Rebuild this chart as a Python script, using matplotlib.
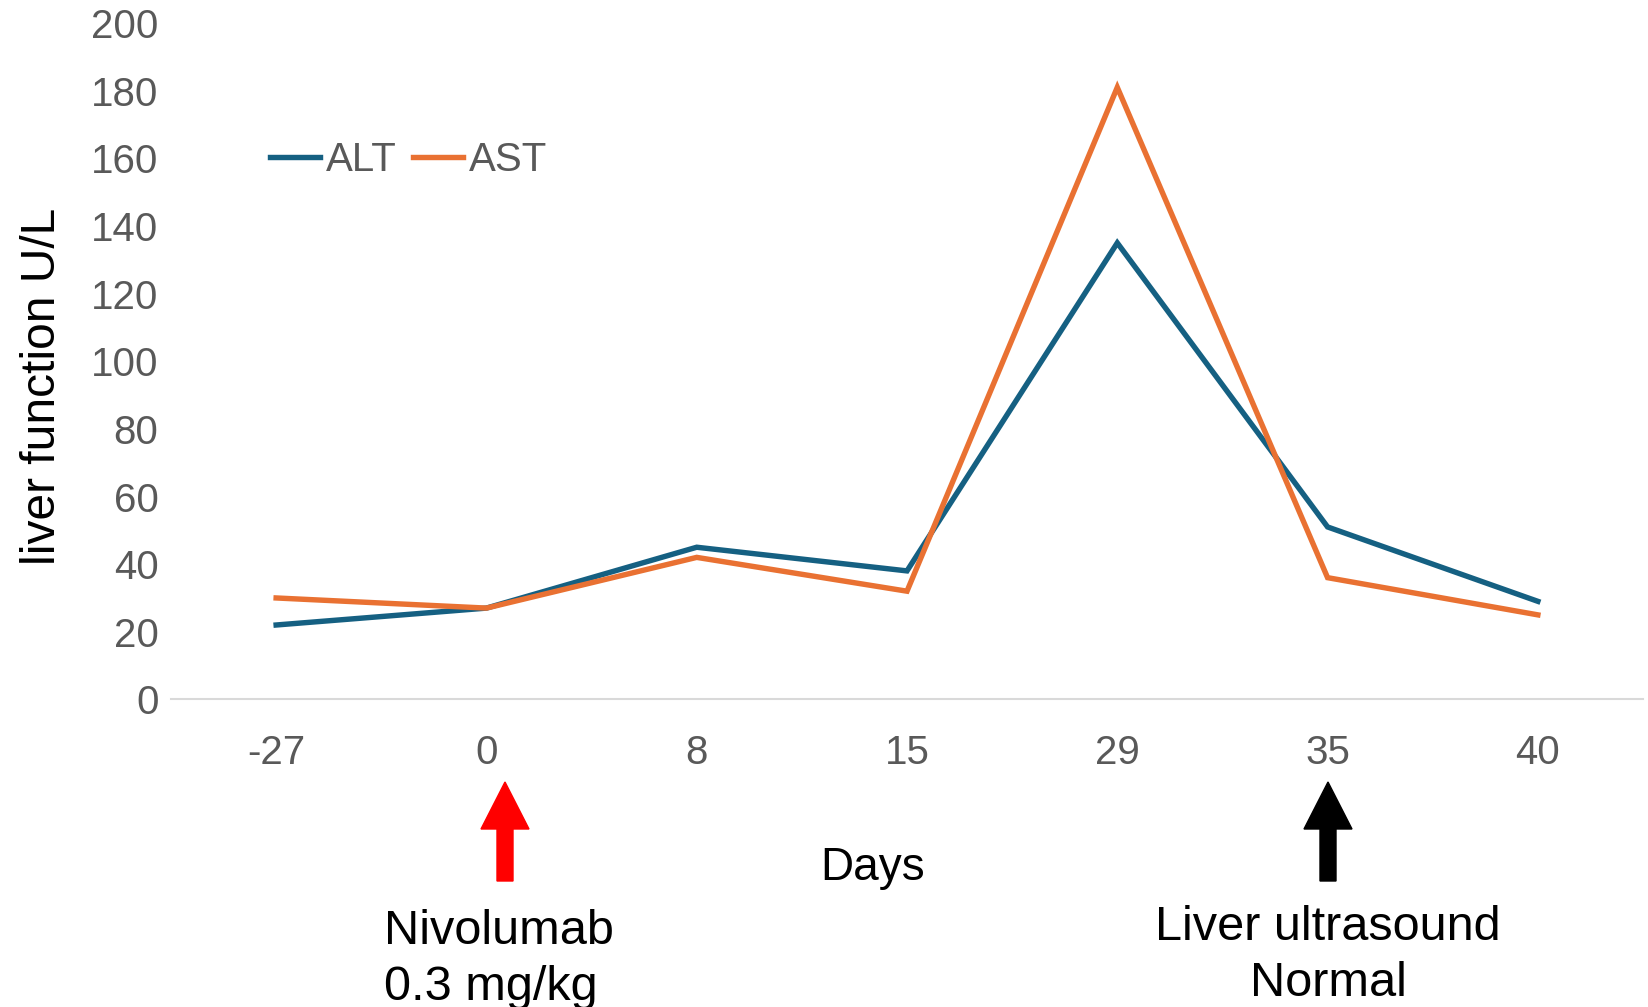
import matplotlib.pyplot as plt
import numpy as np

plt.rcParams['font.family'] = ['Liberation Sans', 'DejaVu Sans']

# Liver enzymes by day relative to the first dose
days = ["-27", "0", "8", "15", "29", "35", "40"]
alt = [22, 27, 45, 38, 135, 51, 29]
ast = [30, 27, 42, 32, 181, 36, 25]

alt_color = "#156082"
ast_color = "#E97132"
tick_gray = "#595959"

fig = plt.figure(figsize=(16.49, 10.07), dpi=100)
ax = fig.add_axes([171 / 1649, 1 - 699.4 / 1007, (1643 - 171) / 1649, (699.4 - 23.1) / 1007])

x = np.arange(len(days))
ax.plot(x, alt, color=alt_color, lw=3.9, label="ALT", solid_joinstyle="miter")
ax.plot(x, ast, color=ast_color, lw=3.9, label="AST", solid_joinstyle="miter")

ax.set_xlim(-0.5, len(days) - 0.5)
ax.set_ylim(0, 200)
ax.set_yticks(range(0, 201, 20))
ax.set_xticks(x)
ax.set_xticklabels(days)

for side in ["top", "right", "left"]:
    ax.spines[side].set_visible(False)
ax.spines["bottom"].set_color("#d9d9d9")
ax.spines["bottom"].set_linewidth(1.5)
ax.tick_params(axis="both", length=0, labelsize=29, labelcolor=tick_gray)
ax.tick_params(axis="x", pad=25)
ax.tick_params(axis="y", pad=9)

ax.set_ylabel("liver function U/L", fontsize=34.5, color="black", labelpad=19)
ax.yaxis.label.set_y(0.4635)

leg = ax.legend(loc="upper left", bbox_to_anchor=(0.056, 0.849), ncol=2, frameon=False,
                fontsize=29, handlelength=1.25, handletextpad=0.15, columnspacing=0.4,
                borderaxespad=0)
for t in leg.get_texts():
    t.set_color(tick_gray)

# Event arrows below the axis
def fig_xy(px, py):
    return px / 1649, 1 - py / 1007

for cx, col in [(505, "red"), (1328, "black")]:
    fig.patches.append(plt.matplotlib.patches.FancyArrow(
        *fig_xy(cx, 881), 0, (881 - 782) / 1007, width=16 / 1649,
        head_width=48 / 1649, head_length=47 / 1007, length_includes_head=True,
        color=col, transform=fig.transFigure, figure=fig))

fig.text(*fig_xy(873, 868), "Days", fontsize=33, ha="center", va="center")
fig.text(*fig_xy(384, 932), "Nivolumab", fontsize=35, ha="left", va="center")
fig.text(*fig_xy(384, 988), "0.3 mg/kg", fontsize=35, ha="left", va="center")
fig.text(*fig_xy(1328, 928), "Liver ultrasound", fontsize=35, ha="center", va="center")
fig.text(*fig_xy(1328, 984), "Normal", fontsize=35, ha="center", va="center")

fig.savefig("out.png", dpi=100)
